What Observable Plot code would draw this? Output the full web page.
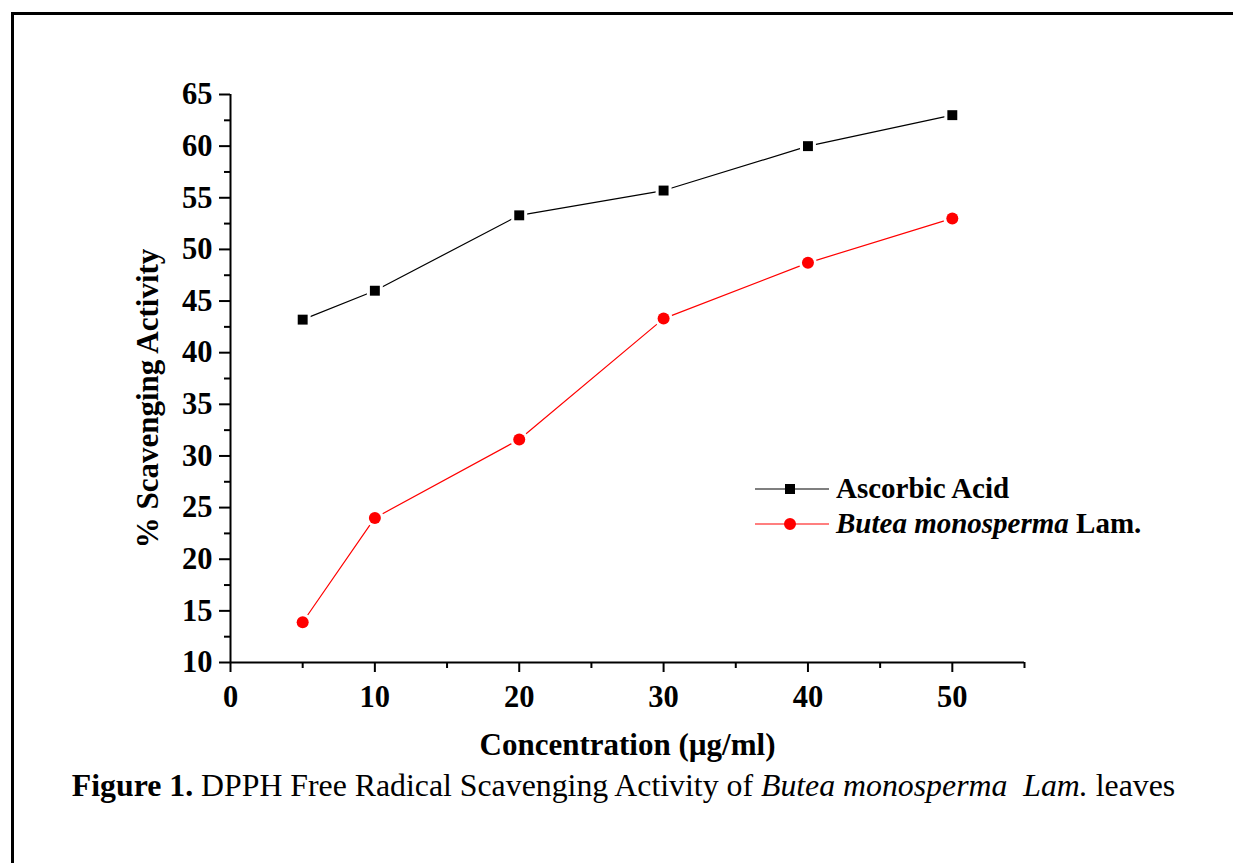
<!DOCTYPE html>
<html>
<head>
<meta charset="utf-8">
<script src="https://cdn.jsdelivr.net/npm/d3@7"></script>
<script src="https://cdn.jsdelivr.net/npm/@observablehq/plot@0.6"></script>
<style>
  html, body { margin: 0; padding: 0; background: #fff; }
  #page { position: relative; width: 1233px; height: 863px; overflow: hidden; font-family: "Liberation Serif", "Times New Roman", serif; }
  #frame { position: absolute; left: 11px; top: 12px; right: -10px; bottom: -10px; border-top: 3px solid #000; border-left: 3px solid #000; }
  #chart { position: absolute; left: 0; top: 0; }
  #legend { position: absolute; left: 755px; top: 470px; font-size: 29px; font-weight: bold; color: #000; }
  .lrow { position: relative; height: 35px; white-space: nowrap; }
  .lrow svg { position: absolute; left: 0; top: 0; }
  .lrow span { position: absolute; left: 81px; top: 0px; line-height: 36px; }
  #caption { position: absolute; left: 0; width: 1247px; top: 768px; text-align: center; font-size: 31.8px; line-height: 36px; color: #000; white-space: nowrap; }
</style>
</head>
<body>
<div id="page">
  <div id="frame"></div>
  <div id="chart"></div>
  <div id="legend"></div>
  <div id="caption"><b>Figure 1.</b> DPPH Free Radical Scavenging Activity of <i>Butea monosperma&nbsp; Lam.</i> leaves</div>
</div>
<script>
// ---- data ----
const concentration = [5, 10, 20, 30, 40, 50];
const ascorbicAcid = [43.2, 46.0, 53.3, 55.7, 60.0, 63.0];
const buteaMonosperma = [13.9, 24.0, 31.6, 43.3, 48.7, 53.0];
const seriesNames = ["Ascorbic Acid", "Butea monosperma Lam."];
const seriesColors = ["#000000", "#ff0000"];
const seriesSymbols = ["square", "circle"];
const xTicks = [0, 10, 20, 30, 40, 50];
const xMinorTicks = [5, 15, 25, 35, 45, 55];
const yTicks = [10, 15, 20, 25, 30, 35, 40, 45, 50, 55, 60, 65];
const yMinorTicks = [12.5, 17.5, 22.5, 27.5, 32.5, 37.5, 42.5, 47.5, 52.5, 57.5, 62.5];
const xTitle = "Concentration (µg/ml)";
const yTitle = "% Scavenging Activity";

const rows = [];
concentration.forEach((c, i) => {
  rows.push({series: seriesNames[0], x: c, y: ascorbicAcid[i]});
  rows.push({series: seriesNames[1], x: c, y: buteaMonosperma[i]});
});
const asc = rows.filter(d => d.series === seriesNames[0]);
const but = rows.filter(d => d.series === seriesNames[1]);

const chart = Plot.plot({
  width: 1233,
  height: 770,
  marginLeft: 230,
  marginRight: 209,
  marginTop: 94,
  marginBottom: 108,
  style: {fontFamily: "'Liberation Serif', 'Times New Roman', serif", fontSize: "30.5px", fontWeight: "bold", color: "#000", background: "transparent", overflow: "visible"},
  x: {domain: [0, 55]},
  y: {domain: [10, 65]},
  color: {domain: seriesNames, range: seriesColors},
  marks: [
    Plot.axisX({ticks: xTicks, tickSize: 10, tickPadding: 13, tickFormat: d => String(d), label: null, strokeWidth: 2}),
    Plot.axisX({ticks: xMinorTicks, tickSize: 6, text: null, label: null, strokeWidth: 2}),
    Plot.axisY({ticks: yTicks, tickSize: 11, tickPadding: 7, tickFormat: d => String(d), label: null, strokeWidth: 2}),
    Plot.axisY({ticks: yMinorTicks, tickSize: 6, text: null, label: null, strokeWidth: 2}),
    Plot.ruleY([10], {stroke: "#000", strokeWidth: 2}),
    Plot.ruleX([0], {stroke: "#000", strokeWidth: 2}),
    Plot.line(rows, {x: "x", y: "y", z: "series", stroke: "series", strokeWidth: 1.2}),
    Plot.dot(asc, {x: "x", y: "y", symbol: "square", r: 5.6, fill: seriesColors[0], stroke: "#fff", strokeWidth: 6, paintOrder: "stroke"}),
    Plot.dot(but, {x: "x", y: "y", symbol: "circle", r: 6, fill: seriesColors[1], stroke: "#fff", strokeWidth: 6, paintOrder: "stroke"}),
    Plot.text([xTitle], {frameAnchor: "bottom", dy: 92, text: d => d, fontSize: 31, fontWeight: "bold", fill: "#000", textAnchor: "middle"}),
    Plot.text([yTitle], {frameAnchor: "left", dx: -82, dy: 20, rotate: -90, text: d => d, fontSize: 31, fontWeight: "bold", fill: "#000", textAnchor: "middle"})
  ]
});
document.getElementById("chart").appendChild(chart);

// ---- legend ----
const legend = document.getElementById("legend");
seriesNames.forEach((name, i) => {
  const row = document.createElement("div");
  row.className = "lrow";
  const svg = d3.create("svg").attr("width", 80).attr("height", 36);
  svg.append("line").attr("x1", 0).attr("x2", 74).attr("y1", 19).attr("y2", 19).attr("stroke", seriesColors[i]).attr("stroke-width", 1.2);
  const sym = d3.symbol(seriesSymbols[i] === "square" ? d3.symbolSquare : d3.symbolCircle, seriesSymbols[i] === "square" ? 100 : 113);
  svg.append("path").attr("d", sym()).attr("transform", "translate(35,19)").attr("fill", seriesColors[i]);
  row.appendChild(svg.node());
  const span = document.createElement("span");
  if (i === 1) {
    span.innerHTML = "<i>Butea monosperma</i> Lam.";
  } else {
    span.textContent = name;
  }
  row.appendChild(span);
  legend.appendChild(row);
});
</script>
</body>
</html>
